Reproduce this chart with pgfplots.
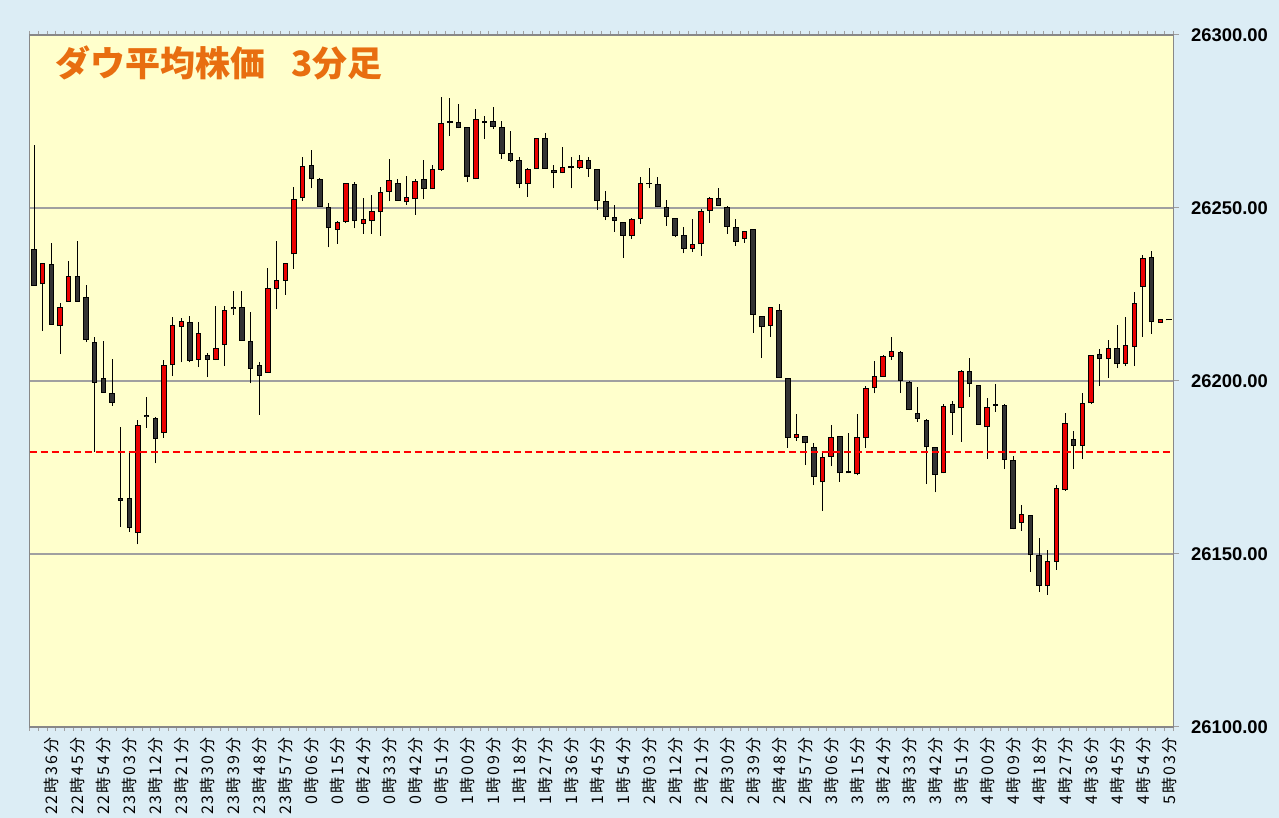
\documentclass[border=0pt]{standalone}
\usepackage{pgfplots}
\pgfplotsset{compat=1.18}
\usepackage{pgfplotstable}
\usepackage{fontspec}
\setmainfont{Liberation Sans}
\newfontfamily\cjk{Noto Sans CJK JP}
\newfontfamily\cjklab[LetterSpace=12]{Noto Sans CJK JP}
\definecolor{bgblue}{RGB}{220,237,245}
\definecolor{plotyellow}{RGB}{255,255,204}
\definecolor{titleorange}{RGB}{232,110,16}
\definecolor{candlered}{RGB}{235,0,0}
\definecolor{candledark}{RGB}{51,51,51}
\definecolor{gridgray}{RGB}{160,160,160}

\pgfplotstableread{
i O H L C
0 26238.1 26268.2 26227.5 26227.5
1 26227.9 26234.2 26214.5 26234.2
2 26233.8 26240.0 26216.3 26216.3
3 26215.8 26222.6 26207.8 26221.3
4 26222.9 26234.7 26222.9 26230.4
5 26230.4 26240.6 26222.9 26222.9
6 26224.2 26227.6 26211.2 26211.8
7 26211.4 26212.6 26179.5 26199.5
8 26201.0 26211.6 26196.6 26196.6
9 26196.6 26206.3 26192.8 26193.7
10 26166.3 26186.8 26157.9 26165.4
11 26166.3 26179.3 26156.5 26157.4
12 26156.0 26188.7 26152.8 26187.3
13 26190.2 26195.5 26186.5 26189.6
14 26189.2 26189.6 26176.2 26183.2
15 26184.9 26206.1 26183.6 26204.6
16 26204.5 26218.4 26201.4 26216.3
17 26215.7 26218.1 26205.4 26217.4
18 26217.1 26218.8 26205.4 26205.8
19 26206.2 26217.1 26204.0 26214.0
20 26207.5 26208.2 26201.1 26206.2
21 26206.2 26221.7 26206.0 26209.6
22 26210.4 26221.7 26204.4 26220.5
23 26221.3 26225.9 26219.1 26220.7
24 26221.3 26225.9 26211.6 26211.6
25 26211.6 26220.0 26199.3 26203.4
26 26204.6 26205.6 26190.2 26201.5
27 26202.4 26232.6 26202.4 26226.8
28 26226.6 26240.6 26220.8 26229.2
29 26229.0 26234.2 26224.9 26234.2
30 26236.6 26256.2 26232.4 26252.5
31 26252.8 26264.7 26252.1 26262.1
32 26262.5 26266.8 26255.7 26258.3
33 26258.3 26258.6 26250.4 26250.4
34 26250.4 26251.5 26238.6 26244.1
35 26243.6 26246.2 26239.6 26245.9
36 26246.0 26257.3 26245.6 26257.1
37 26256.8 26257.6 26244.1 26246.2
38 26245.4 26252.8 26242.5 26246.7
39 26246.2 26253.8 26242.5 26249.2
40 26248.8 26256.2 26242.0 26254.5
41 26254.7 26264.2 26252.0 26258.1
42 26257.1 26258.3 26252.1 26252.1
43 26251.6 26259.2 26250.9 26253.1
44 26252.5 26258.3 26248.0 26257.9
45 26258.3 26263.9 26252.5 26255.4
46 26255.4 26262.4 26255.4 26261.2
47 26261.0 26282.2 26260.8 26274.7
48 26274.9 26281.7 26270.8 26274.6
49 26274.9 26280.1 26273.0 26273.0
50 26273.5 26273.5 26257.4 26259.1
51 26258.3 26278.6 26258.3 26275.6
52 26274.9 26276.7 26270.0 26274.5
53 26275.1 26279.3 26272.8 26273.5
54 26273.5 26275.1 26264.2 26265.6
55 26266.0 26272.3 26263.2 26263.7
56 26263.9 26264.8 26255.7 26256.9
57 26256.9 26261.5 26253.3 26261.3
58 26261.2 26270.3 26261.2 26270.1
59 26270.1 26271.6 26261.2 26261.2
60 26261.0 26262.4 26255.7 26260.0
61 26260.0 26267.7 26260.0 26261.8
62 26261.8 26264.8 26255.7 26261.5
63 26261.7 26265.3 26261.3 26263.8
64 26263.8 26264.8 26259.1 26261.3
65 26261.3 26261.3 26249.5 26252.0
66 26252.1 26255.0 26246.5 26247.5
67 26247.5 26250.9 26243.2 26246.2
68 26245.9 26245.9 26235.5 26242.0
69 26241.9 26247.2 26241.0 26246.7
70 26246.7 26258.9 26245.4 26257.1
71 26257.3 26261.5 26255.7 26256.8
72 26256.8 26258.9 26250.2 26250.2
73 26250.4 26252.3 26244.8 26247.5
74 26247.2 26247.2 26241.5 26241.9
75 26242.2 26244.6 26236.9 26238.2
76 26238.2 26246.7 26237.4 26239.6
77 26239.5 26249.6 26236.2 26249.2
78 26249.2 26253.1 26245.8 26252.9
79 26253.0 26255.9 26250.7 26250.7
80 26250.4 26250.7 26242.5 26244.6
81 26244.6 26246.7 26239.1 26240.3
82 26241.0 26243.4 26240.0 26243.4
83 26243.8 26243.8 26214.0 26219.1
84 26218.8 26218.8 26206.6 26215.5
85 26215.9 26221.3 26212.8 26221.3
86 26220.5 26222.2 26200.8 26201.0
87 26200.8 26201.0 26180.7 26183.6
88 26183.6 26190.5 26182.7 26184.6
89 26184.1 26184.1 26175.7 26182.0
90 26181.0 26182.2 26169.9 26172.2
91 26170.7 26179.1 26162.5 26178.1
92 26178.1 26187.3 26175.4 26183.7
93 26184.1 26184.1 26170.9 26173.3
94 26173.7 26185.1 26173.3 26173.3
95 26173.0 26190.5 26172.7 26183.9
96 26183.5 26198.6 26180.7 26198.0
97 26197.9 26205.9 26196.4 26201.3
98 26201.1 26207.5 26201.1 26207.2
99 26207.0 26212.6 26206.1 26208.8
100 26208.3 26208.8 26196.5 26200.0
101 26199.6 26200.0 26191.6 26191.6
102 26190.8 26198.3 26188.2 26189.1
103 26188.7 26188.9 26170.2 26180.8
104 26180.8 26181.0 26167.8 26172.8
105 26173.3 26193.4 26173.3 26192.9
106 26193.4 26194.3 26184.4 26190.8
107 26192.1 26203.2 26182.5 26203.0
108 26203.0 26206.6 26195.5 26199.1
109 26198.8 26198.8 26187.3 26187.3
110 26186.6 26195.0 26177.4 26192.6
111 26193.4 26199.2 26191.1 26192.9
112 26193.1 26193.4 26174.5 26177.1
113 26177.2 26178.3 26157.1 26157.1
114 26159.1 26164.2 26156.7 26161.6
115 26161.3 26161.3 26144.9 26149.7
116 26149.7 26154.5 26139.1 26140.8
117 26140.8 26151.2 26138.2 26148.1
118 26147.8 26169.9 26145.4 26169.0
119 26168.5 26190.7 26168.3 26188.0
120 26183.2 26185.6 26174.5 26181.2
121 26181.2 26196.6 26177.4 26193.7
122 26193.5 26207.5 26193.3 26207.5
123 26207.8 26209.2 26198.6 26206.3
124 26206.3 26211.8 26200.8 26209.6
125 26209.6 26216.2 26203.7 26204.9
126 26204.9 26218.4 26204.3 26210.4
127 26209.9 26225.8 26204.3 26222.6
128 26227.1 26236.4 26212.8 26235.5
129 26235.9 26237.7 26213.6 26217.0
130 26216.8 26217.9 26216.8 26217.9
131 26217.5 26217.5 26217.5 26217.5
}\ohlc

\begin{document}
\begin{tikzpicture}
\useasboundingbox (0,0) rectangle (639.5pt,409pt);
\fill[bgblue] (0,0) rectangle (639.5pt,409pt);
\clip (0,0) rectangle (639.5pt,409pt);
\begin{axis}[
  at={(14.85pt,45.5pt)}, anchor=south west,
  scale only axis, width=571.8pt, height=346pt,
  xmin=-0.5, xmax=131.5, ymin=26100, ymax=26300,
  axis background/.style={fill=plotyellow},
  axis line style={gridgray!85!black, line width=0.8pt},
  xtick={2,5,...,131},
  xticklabels={22時36分,22時45分,22時54分,23時03分,23時12分,23時21分,23時30分,23時39分,23時48分,23時57分,0時06分,0時15分,0時24分,0時33分,0時42分,0時51分,1時00分,1時09分,1時18分,1時27分,1時36分,1時45分,1時54分,2時03分,2時12分,2時21分,2時30分,2時39分,2時48分,2時57分,3時06分,3時15分,3時24分,3時33分,3時42分,3時51分,4時00分,4時09分,4時18分,4時27分,4時36分,4時45分,4時54分,5時03分},
  minor xtick={-0.5,0.5,...,131.5},
  every major x tick/.append style={draw=none},
  ytick={26100,26150,26200,26250,26300},
  scaled y ticks=false,
  ytick pos=right, yticklabel pos=right,
  tick align=outside,
  major tick length=2.7pt, minor tick length=2pt,
  tick style={gridgray, line width=0.5pt},
  ymajorgrids,
  major grid style={gridgray, line width=0.8pt},
  xticklabel style={rotate=90, anchor=east, font=\cjklab\fontsize{8pt}{8.5pt}\selectfont, inner sep=0pt, xshift=-2.5pt},
  yticklabel style={anchor=west, font=\bfseries\fontsize{9.2pt}{10pt}\selectfont, inner sep=0pt, xshift=6pt,
    /pgf/number format/.cd, fixed, fixed zerofill, precision=2, 1000 sep={}, assume math mode=true},
]
% wicks
\addplot[draw=none, mark=none, forget plot, error bars/.cd, y dir=plus, y explicit, error mark=none,
  error bar style={draw=black, line width=0.5pt}]
  table[x=i, y=L, y error expr={\thisrow{H}-\thisrow{L}}] {\ohlc};
% body outlines
\addplot[draw=none, mark=none, forget plot, error bars/.cd, y dir=plus, y explicit, error mark=none,
  error bar style={draw=black, line width=2.75pt}]
  table[x=i, y expr={min(\thisrow{O},\thisrow{C})}, y error expr={max(abs(\thisrow{C}-\thisrow{O}),0.55)}] {\ohlc};
% rising bodies
\addplot[draw=none, mark=none, forget plot, restrict expr to domain={\thisrow{C}-\thisrow{O}}{0.05:1000},
  error bars/.cd, y dir=plus, y explicit, error mark=none,
  error bar style={draw=candlered, line width=1.75pt}]
  table[x=i, y expr={min(\thisrow{O},\thisrow{C})+0.29}, y error expr={max(abs(\thisrow{C}-\thisrow{O})-0.58,0)}] {\ohlc};
% falling bodies
\addplot[draw=none, mark=none, forget plot, restrict expr to domain={\thisrow{C}-\thisrow{O}}{-1000:0.04},
  error bars/.cd, y dir=plus, y explicit, error mark=none,
  error bar style={draw=candledark, line width=1.75pt}]
  table[x=i, y expr={min(\thisrow{O},\thisrow{C})+0.29}, y error expr={max(abs(\thisrow{C}-\thisrow{O})-0.58,0)}] {\ohlc};
% reference line
\addplot[red, line width=1.3pt, dash pattern=on 3.6pt off 1.9pt, mark=none] coordinates {(-0.5,26179.5) (131.5,26179.5)};
\node[anchor=west, inner sep=0pt, text=titleorange, font=\cjk\bfseries\fontsize{17.5pt}{20pt}\selectfont]
  at (rel axis cs:0.022,0.959) {ダウ平均株価\hspace{0.75em}3分足};
\end{axis}
\end{tikzpicture}
\end{document}
